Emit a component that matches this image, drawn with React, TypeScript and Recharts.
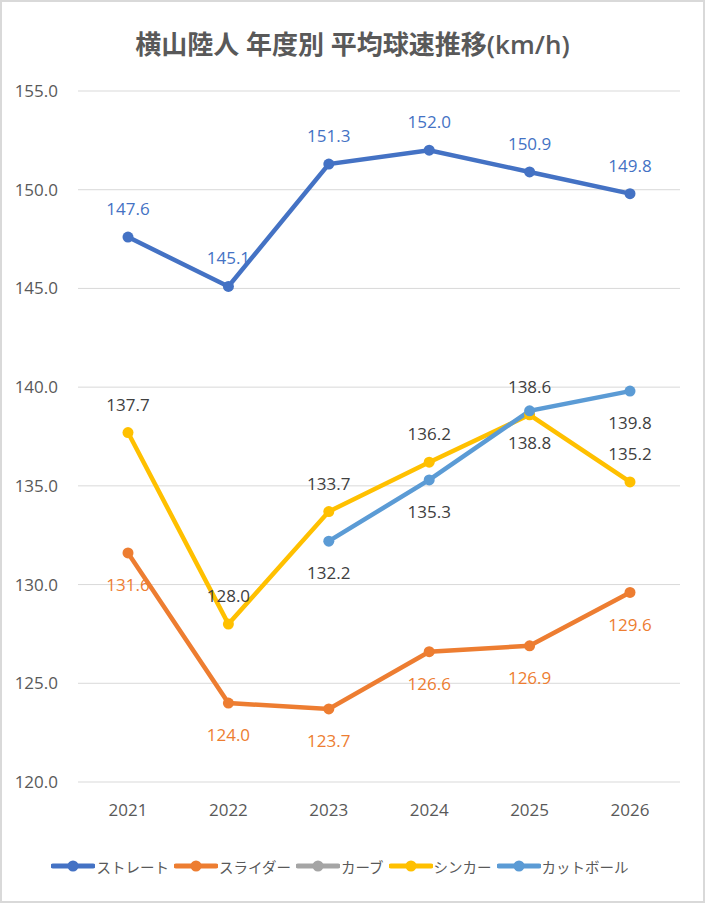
import React from "react"
import { LineChart, Line, XAxis, YAxis, CartesianGrid, Legend, LabelList } from "recharts"

const years = ["2021", "2022", "2023", "2024", "2025", "2026"]
const straight = [147.6, 145.1, 151.3, 152.0, 150.9, 149.8]
const slider = [131.6, 124.0, 123.7, 126.6, 126.9, 129.6]
const curve: (number | null)[] = [null, null, null, null, null, null]
const sinker = [137.7, 128.0, 133.7, 136.2, 138.6, 135.2]
const cutter: (number | null)[] = [null, null, 132.2, 135.3, 138.8, 139.8]
const yTicks = [120, 125, 130, 135, 140, 145, 150, 155]

const FONT = "'Open Sans', 'Noto Sans CJK JP', sans-serif"

const SERIES = [
  { key: "ストレート", values: straight, color: "#4472C4", labelColor: "#4472C4", pos: "top" },
  { key: "スライダー", values: slider, color: "#ED7D31", labelColor: "#ED7D31", pos: "bottom" },
  { key: "カーブ", values: curve, color: "#A5A5A5", labelColor: "#404040", pos: "top" },
  { key: "シンカー", values: sinker, color: "#FFC000", labelColor: "#404040", pos: "top" },
  { key: "カットボール", values: cutter, color: "#5B9BD5", labelColor: "#404040", pos: "bottom" },
] as const

const seriesOrder: string[] = SERIES.map((s) => s.key)

const data = years.map((year, i) => {
  const row: Record<string, string | number | null> = { year }
  SERIES.forEach((s) => {
    row[s.key] = s.values[i]
  })
  return row
})

// eslint-disable-next-line @typescript-eslint/no-explicit-any
const renderLegend = (props: any) => {
  const payload = [...(props.payload || [])].sort(
    (a: any, b: any) => seriesOrder.indexOf(a.value) - seriesOrder.indexOf(b.value)
  )
  return (
    <div style={{ display: "flex", justifyContent: "center", alignItems: "center", height: 30, paddingRight: 20 }}>
      {payload.map((entry: any) => (
        <div key={entry.value} style={{ display: "flex", alignItems: "center", marginRight: 5 }}>
          <svg width={44} height={14}>
            <line x1={2} y1={7} x2={42} y2={7} stroke={entry.color} strokeWidth={5} strokeLinecap="round" />
            <circle cx={22} cy={7} r={5.5} fill={entry.color} />
          </svg>
          <span style={{ fontFamily: FONT, fontSize: 14.5, color: "#595959", marginLeft: 1 }}>{entry.value}</span>
        </div>
      ))}
    </div>
  )
}

export default function App() {
  return (
    <div
      style={{
        position: "absolute",
        top: 0,
        left: 0,
        width: 705,
        height: 903,
        boxSizing: "border-box",
        border: "2px solid #D9D9D9",
        background: "#fff",
        overflow: "hidden",
      }}
    >
      <div
        style={{
          position: "absolute",
          top: 26,
          left: 0,
          width: 701,
          textAlign: "center",
          fontFamily: FONT,
          fontSize: 26,
          fontWeight: 600,
          color: "#595959",
          lineHeight: "32px",
        }}
      >
        横山陸人 年度別 平均球速推移(km/h)
      </div>
      <div style={{ position: "absolute", top: -2, left: -2 }}>
        <LineChart width={705} height={903} data={data} margin={{ top: 91, right: 25, bottom: 51, left: 0 }}>
          <CartesianGrid vertical={false} stroke="#D9D9D9" strokeWidth={1} />
          <XAxis
            dataKey="year"
            axisLine={false}
            tickLine={false}
            tickSize={0}
            tickMargin={22}
            height={40}
            padding={{ left: 50, right: 50 }}
            tick={{ fill: "#595959", fontSize: 17, fontFamily: FONT }}
          />
          <YAxis
            domain={[120, 155]}
            ticks={yTicks}
            interval={0}
            axisLine={false}
            tickLine={false}
            tickSize={0}
            tickMargin={20}
            width={78}
            tickFormatter={(v: number) => v.toFixed(1)}
            tick={{ fill: "#595959", fontSize: 17, fontFamily: FONT }}
          />
          <Legend
            content={renderLegend}
            itemSorter={null}
            wrapperStyle={{ top: 851, left: 0, width: 705, height: 30 }}
          />
          {SERIES.map((s) => (
            <Line
              key={s.key}
              type="linear"
              dataKey={s.key}
              stroke={s.color}
              strokeWidth={4.5}
              dot={{ r: 5.5, fill: s.color, stroke: s.color, strokeWidth: 0 }}
              activeDot={false}
              isAnimationActive={false}
            >
              <LabelList
                dataKey={s.key}
                position={s.pos}
                offset={s.pos === "top" ? 22 : 26}
                formatter={(v: any) => (v == null ? "" : Number(v).toFixed(1))}
                style={{ fill: s.labelColor, fontSize: 17, fontFamily: FONT }}
              />
            </Line>
          ))}
        </LineChart>
      </div>
    </div>
  )
}
